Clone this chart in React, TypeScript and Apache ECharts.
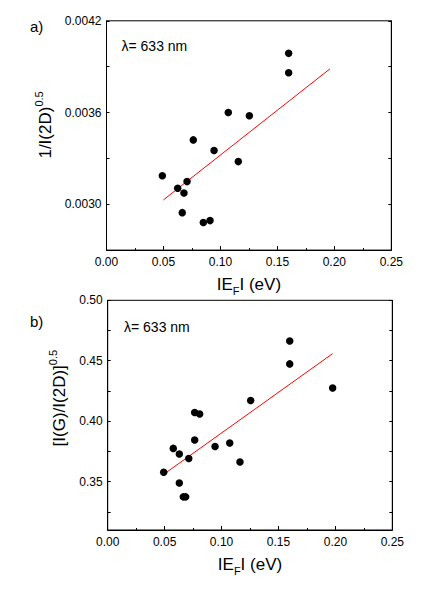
import React, { useEffect, useRef } from "react";
import * as echarts from "echarts";

const FONT = "'Liberation Sans', Arial, Helvetica, sans-serif";

// Panel a) 1/I(2D)^0.5 vs |E_F|
const aX = [0.049, 0.0625, 0.0707, 0.068, 0.0665, 0.0762, 0.085, 0.0909, 0.0944, 0.1069, 0.1157, 0.1254, 0.1599, 0.1599];
const aY = [0.003186, 0.003105, 0.003148, 0.003074, 0.002945, 0.003421, 0.00288, 0.002893, 0.003351, 0.0036, 0.003279, 0.003579, 0.003987, 0.00386];
const aFitX = [0.0499, 0.1962];
const aFitY = [0.003028, 0.003886];

// Panel b) [I(G)/I(2D)]^0.5 vs |E_F|
const bX = [0.0492, 0.0576, 0.0629, 0.0712, 0.0629, 0.0664, 0.0685, 0.0764, 0.0808, 0.0764, 0.0943, 0.1072, 0.1162, 0.1256, 0.1599, 0.1599, 0.1976];
const bY = [0.3577, 0.3775, 0.3729, 0.3692, 0.3489, 0.3374, 0.3374, 0.4072, 0.4059, 0.3844, 0.3791, 0.382, 0.3663, 0.4171, 0.4664, 0.4474, 0.4274];
const bFitX = [0.0497, 0.1976];
const bFitY = [0.3564, 0.4559];

const xTicks = [0, 0.05, 0.1, 0.15, 0.2, 0.25];
const aYLabels = [0.003, 0.0036, 0.0042];
const aYTicks = [0.003, 0.0033, 0.0036, 0.0039, 0.0042];
const bYLabels = [0.35, 0.4, 0.45, 0.5];
const bYTicks = [0.325, 0.35, 0.375, 0.4, 0.425, 0.45, 0.475, 0.5];

const xName = "{a|IE}{s|F}{a|I (eV)}";
const aYName = "{a|1/I(2D)}{s|0.5}";
const bYName = "{a|[I(G)/I(2D)]}{s|0.5}";

const pair = (xs: number[], ys: number[]) => xs.map((x, i) => [x, ys[i]]);

export default function App() {
  const ref = useRef<HTMLDivElement>(null);
  useEffect(() => {
    if (!ref.current) return;
    const chart = echarts.init(ref.current, null, { renderer: "svg" });
    const black = "#000";
    const labelStyle = { color: black, fontSize: 12, fontFamily: FONT };
    const xAxisCommon = (gridIndex: number) => ({
      type: "value",
      gridIndex,
      min: xTicks[0],
      max: xTicks[xTicks.length - 1],
      interval: 0.05,
      axisLine: { show: true, lineStyle: { color: black, width: 1 } },
      axisTick: { show: true, inside: true, length: 4, lineStyle: { color: black } },
      minorTick: { show: true, splitNumber: 2, length: 2, lineStyle: { color: black } },
      splitLine: { show: false },
      axisLabel: { ...labelStyle, margin: 6, formatter: (v: number) => v.toFixed(2) },
      name: xName,
      nameLocation: "middle",
      nameGap: 22,
      nameTextStyle: {
        rich: {
          a: { fontSize: 17, fontFamily: FONT, color: black, lineHeight: 24 },
          s: { fontSize: 11, fontFamily: FONT, color: black, lineHeight: 11, verticalAlign: "bottom" },
        },
      },
    });
    const yRich = {
      a: { fontSize: 17, fontFamily: FONT, color: black, lineHeight: 24 },
      s: { fontSize: 11, fontFamily: FONT, color: black, lineHeight: 11, verticalAlign: "top" },
    };
    const yAxisCommon = (
      gridIndex: number,
      min: number,
      max: number,
      labels: number[],
      ticks: number[],
      digits: number,
      right: boolean
    ) => ({
      type: "value",
      gridIndex,
      min,
      max,
      position: right ? "right" : "left",
      axisLine: { show: true, lineStyle: { color: black, width: 1 } },
      axisTick: { show: true, inside: true, length: 3, customValues: ticks, lineStyle: { color: black } },
      splitLine: { show: false },
      axisLabel: right
        ? { show: false }
        : { ...labelStyle, margin: 5, customValues: labels, formatter: (v: number) => v.toFixed(digits) },
    });

    chart.setOption({
      animation: false,
      backgroundColor: "#fff",
      grid: [
        { left: 106.5, top: 20.8, width: 284.8, height: 229.3, show: true, borderColor: black, borderWidth: 1 },
        { left: 107.7, top: 300.3, width: 284.6, height: 229.7, show: true, borderColor: black, borderWidth: 1 },
      ],
      xAxis: [xAxisCommon(0), xAxisCommon(1)],
      yAxis: [
        {
          ...yAxisCommon(0, 0.0027, 0.0042, aYLabels, aYTicks, 4, false),
          name: aYName,
          nameLocation: "middle",
          nameRotate: 90,
          nameGap: 49,
          nameTextStyle: { rich: yRich, padding: [0, 0, 0, 21] },
        },
        yAxisCommon(0, 0.0027, 0.0042, aYLabels, aYTicks, 4, true),
        {
          ...yAxisCommon(1, 0.31, 0.5, bYLabels, bYTicks, 2, false),
          name: bYName,
          nameLocation: "middle",
          nameRotate: 90,
          nameGap: 34,
          nameTextStyle: { rich: yRich, padding: [0, 0, 0, 34] },
        },
        yAxisCommon(1, 0.31, 0.5, bYLabels, bYTicks, 2, true),
      ],
      series: [
        {
          type: "line",
          xAxisIndex: 0,
          yAxisIndex: 0,
          data: pair(aFitX, aFitY),
          showSymbol: false,
          lineStyle: { color: "#ff0000", width: 1 },
          z: 1,
        },
        {
          type: "scatter",
          xAxisIndex: 0,
          yAxisIndex: 0,
          data: pair(aX, aY),
          symbol: "circle",
          symbolSize: 7.5,
          itemStyle: { color: black, opacity: 1 },
          z: 2,
        },
        {
          type: "line",
          xAxisIndex: 1,
          yAxisIndex: 2,
          data: pair(bFitX, bFitY),
          showSymbol: false,
          lineStyle: { color: "#ff0000", width: 1 },
          z: 1,
        },
        {
          type: "scatter",
          xAxisIndex: 1,
          yAxisIndex: 2,
          data: pair(bX, bY),
          symbol: "circle",
          symbolSize: 7.5,
          itemStyle: { color: black, opacity: 1 },
          z: 2,
        },
      ],
      graphic: [
        { type: "text", left: 30, top: 19, style: { text: "a)", fontSize: 15, fontFamily: FONT, fill: black } },
        { type: "text", left: 30, top: 314, style: { text: "b)", fontSize: 15, fontFamily: FONT, fill: black } },
        { type: "text", left: 121.5, top: 38.5, style: { text: "λ= 633 nm", fontSize: 14, fontFamily: FONT, fill: black } },
        { type: "text", left: 124, top: 320, style: { text: "λ= 633 nm", fontSize: 14, fontFamily: FONT, fill: black } },
      ],
    });
    return () => chart.dispose();
  }, []);
  return <div ref={ref} style={{ position: "absolute", left: 0, top: 0, width: 436, height: 593 }} />;
}
